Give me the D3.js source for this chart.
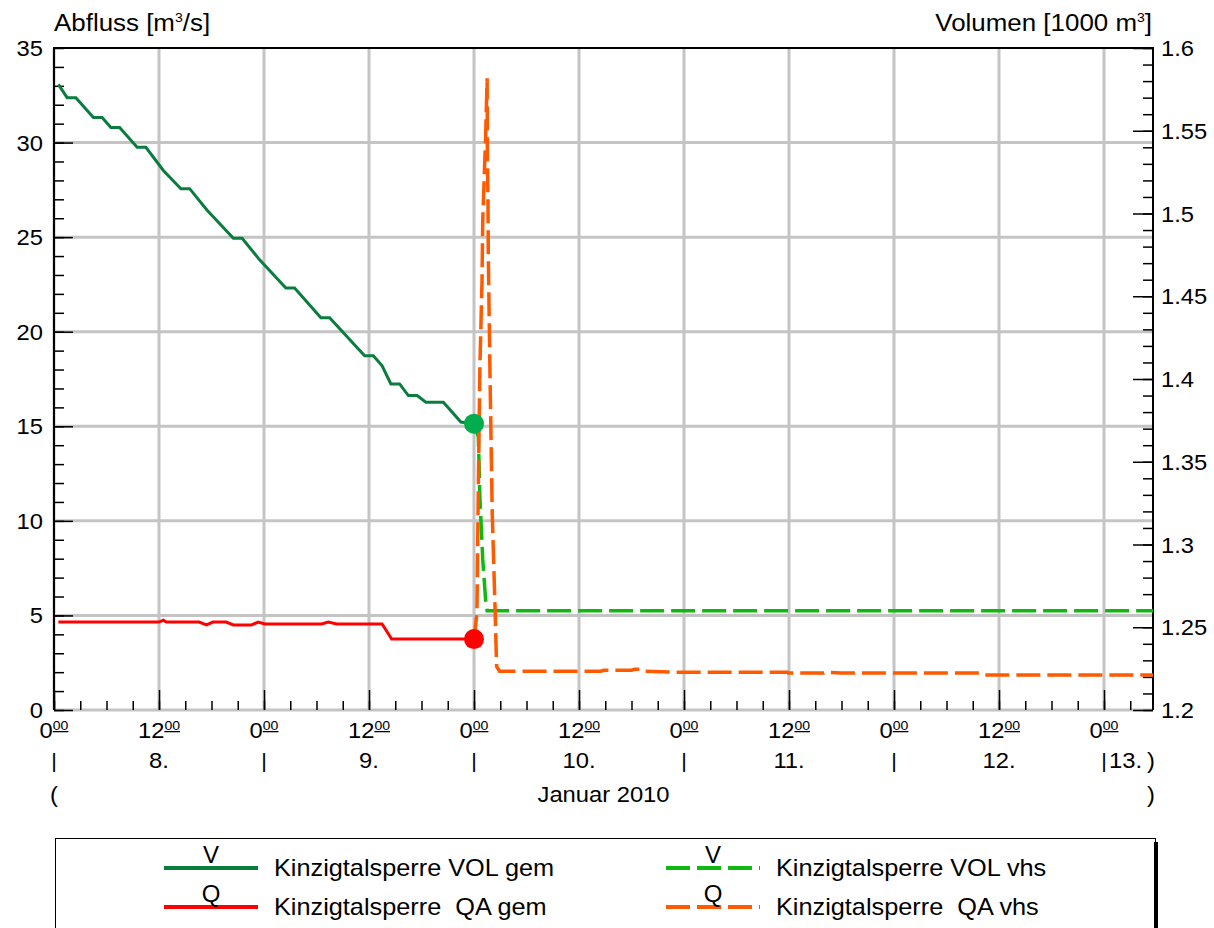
<!DOCTYPE html>
<html>
<head>
<meta charset="utf-8">
<script src="https://cdn.jsdelivr.net/npm/d3@7"></script>
<style>
  body { margin: 0; background: #fff; }
  svg { display: block; font-family: "Liberation Sans", Arial, sans-serif; }
  text { fill: #000; white-space: pre; }
</style>
</head>
<body>
<div id="chart"></div>
<script>
// --- data ---
// volume measured (1000 m3)
var volGemTime = ["2010-01-08 00:30","2010-01-08 01:30","2010-01-08 02:30","2010-01-08 04:30","2010-01-08 05:30",
  "2010-01-08 06:30","2010-01-08 07:30","2010-01-08 09:30","2010-01-08 10:30","2010-01-08 12:30","2010-01-08 14:30",
  "2010-01-08 15:30","2010-01-08 17:30","2010-01-08 20:30","2010-01-08 21:30","2010-01-08 23:30","2010-01-09 02:30",
  "2010-01-09 03:30","2010-01-09 06:30","2010-01-09 07:30","2010-01-09 11:30","2010-01-09 12:30","2010-01-09 13:30",
  "2010-01-09 14:30","2010-01-09 15:30","2010-01-09 16:30","2010-01-09 17:30","2010-01-09 18:30","2010-01-09 20:30",
  "2010-01-09 22:30","2010-01-10 00:00"];
var volGemValue = [1.578,1.570,1.570,1.558,1.558,1.552,1.552,1.540,1.540,1.526,1.515,1.515,1.502,1.485,1.485,1.472,
  1.455,1.455,1.437,1.437,1.414,1.414,1.408,1.397,1.397,1.390,1.390,1.386,1.386,1.374,1.373];

// volume forecast (1000 m3)
var volVhsTime = ["2010-01-10 00:00","2010-01-10 00:30","2010-01-10 00:40","2010-01-10 01:00","2010-01-10 01:20",
  "2010-01-10 01:30","2010-01-13 05:36"];
var volVhsValue = [1.373,1.365,1.329,1.291,1.266,1.260,1.260];

// outflow measured (m3/s)
var qGemTime = ["2010-01-08 00:30","2010-01-08 12:00","2010-01-08 12:30","2010-01-08 12:50","2010-01-08 16:35",
  "2010-01-08 17:25","2010-01-08 18:10","2010-01-08 19:40","2010-01-08 20:30","2010-01-08 22:35","2010-01-08 23:20",
  "2010-01-09 00:05","2010-01-09 06:35","2010-01-09 07:20","2010-01-09 08:20","2010-01-09 13:30","2010-01-09 14:35",
  "2010-01-10 00:00"];
var qGemValue = [4.65,4.65,4.75,4.65,4.65,4.5,4.65,4.65,4.5,4.5,4.65,4.55,4.55,4.65,4.55,4.55,3.75,3.75];

// outflow forecast (m3/s)
var qVhsTime = ["2010-01-10 00:00","2010-01-10 00:20","2010-01-10 00:30","2010-01-10 00:40","2010-01-10 00:55",
  "2010-01-10 01:00","2010-01-10 01:20","2010-01-10 01:30","2010-01-10 01:32","2010-01-10 01:36","2010-01-10 01:38",
  "2010-01-10 01:50","2010-01-10 02:05","2010-01-10 02:25","2010-01-10 02:35","2010-01-10 02:55","2010-01-10 14:30",
  "2010-01-10 14:50","2010-01-10 18:00","2010-01-10 18:20","2010-01-10 19:00","2010-01-10 19:20","2010-01-10 23:00",
  "2010-01-11 11:50","2010-01-11 11:55","2010-01-11 16:00","2010-01-11 16:10","2010-01-11 18:00","2010-01-12 09:50",
  "2010-01-12 10:10","2010-01-13 05:36"];
var qVhsValue = [3.75,5.1,12,18,22.7,25.9,30.4,33.4,29.0,26.8,24.1,17.6,10.4,5.2,2.3,2.05,2.05,2.1,2.1,2.15,2.15,
  2.05,2.0,2.0,1.95,1.95,2.0,1.95,1.95,1.85,1.85];

var timeDomain = ["2010-01-08 00:00", "2010-01-13 05:36"];
var qDomain = [0, 35];
var volDomain = [1.2, 1.6];
var dayLabels = ["8.", "9.", "10.", "11.", "12."];
var lastDayLabel = "13.";
var monthLabel = "Januar 2010";
var leftTitle = "Abfluss [m";
var rightTitle = "Volumen [1000 m";
var legendSymbols = ["V", "Q", "V", "Q"];
var legendNames = ["Kinzigtalsperre VOL gem", "Kinzigtalsperre  QA gem", "Kinzigtalsperre VOL vhs", "Kinzigtalsperre  QA vhs"];

// --- layout ---
var width = 1214, height = 928;
var x0 = 54, x1 = 1153, y0 = 48, y1 = 710;
var SX = 1.08; // text in the original is a bit wide
var gridColor = "#c4c4c4";
var colors = ["#0a7d3e", "#ff0000", "#10b810", "#ff5a00"];

var parse = d3.timeParse("%Y-%m-%d %H:%M");

var svg = d3.select("#chart").append("svg")
  .attr("width", width)
  .attr("height", height);

var x = d3.scaleTime().domain(timeDomain.map(parse)).range([x0, x1]);
var yQ = d3.scaleLinear().domain(qDomain).range([y1, y0]);
var yV = d3.scaleLinear().domain(volDomain).range([y1, y0]);

function label(g, px, py, str, anchor, size, sx) {
  return g.append("text")
    .attr("transform", "translate(" + px + "," + py + ") scale(" + (sx || SX) + ",1)")
    .attr("text-anchor", anchor || "start")
    .style("font-size", (size || 22) + "px")
    .text(str);
}

// grid
var grid = svg.append("g");
grid.selectAll("line.v").data(x.ticks(d3.timeHour.every(12))).enter().append("line")
  .attr("x1", function(d){ return x(d); }).attr("x2", function(d){ return x(d); })
  .attr("y1", y0).attr("y2", y1)
  .attr("stroke", gridColor).attr("stroke-width", 3);
grid.selectAll("line.h").data(yQ.ticks(7).filter(function(d){ return d < 35; })).enter().append("line")
  .attr("x1", x0).attr("x2", x1)
  .attr("y1", function(d){ return yQ(d); }).attr("y2", function(d){ return yQ(d); })
  .attr("stroke", gridColor).attr("stroke-width", 3);

// axes ticks (inside)
function noDomain(g) { g.select(".domain").remove(); g.selectAll("line").attr("stroke", "#000").attr("stroke-width", 1.5); }

svg.append("g").attr("transform", "translate(" + x0 + ",0)")
  .call(d3.axisLeft(yQ).ticks(35).tickSize(-10).tickFormat("")).call(noDomain);
svg.append("g").attr("transform", "translate(" + x0 + ",0)")
  .call(d3.axisLeft(yQ).tickValues([0, 5, 10, 15, 20, 25, 30]).tickSize(-19).tickFormat("")).call(noDomain);
svg.append("g").attr("transform", "translate(" + x1 + ",0)")
  .call(d3.axisRight(yV).tickValues(d3.range(1.2, 1.6001, 0.01)).tickSize(-10).tickFormat("")).call(noDomain);
svg.append("g").attr("transform", "translate(" + x1 + ",0)")
  .call(d3.axisRight(yV).tickValues(d3.range(1.2, 1.6001, 0.05)).tickSize(-20).tickFormat("")).call(noDomain);
svg.append("g").attr("transform", "translate(0," + y1 + ")")
  .call(d3.axisBottom(x).ticks(d3.timeHour.every(3)).tickSize(-9).tickFormat("")).call(noDomain);
svg.append("g").attr("transform", "translate(0," + y1 + ")")
  .call(d3.axisBottom(x).ticks(d3.timeHour.every(12)).tickSize(-20).tickFormat("")).call(noDomain);

// frame
svg.append("line").attr("x1", x0).attr("x2", x1).attr("y1", y0).attr("y2", y0).attr("stroke", "#000").attr("stroke-width", 2);
svg.append("line").attr("x1", x0).attr("x2", x0).attr("y1", y0 - 1).attr("y2", y1).attr("stroke", "#000").attr("stroke-width", 2);
svg.append("line").attr("x1", x1).attr("x2", x1).attr("y1", y0 - 1).attr("y2", y1).attr("stroke", "#000").attr("stroke-width", 2);

// series
function series(times, values, yScale) {
  return times.map(function(t, i){ return { t: parse(t), v: values[i], y: yScale }; });
}
var line = d3.line().x(function(d){ return x(d.t); }).y(function(d){ return d.y(d.v); });
var plot = svg.append("g");

var volVhs = series(volVhsTime, volVhsValue, yV);
var qVhs = series(qVhsTime, qVhsValue, yQ);
var volGem = series(volGemTime, volGemValue, yV);
var qGem = series(qGemTime, qGemValue, yQ);

plot.append("path").datum(volVhs).attr("d", line).attr("fill", "none")
  .attr("stroke", colors[2]).attr("stroke-width", 3.5).attr("stroke-dasharray", "24,7");
plot.append("path").datum(qVhs).attr("d", line).attr("fill", "none")
  .attr("stroke", colors[3]).attr("stroke-width", 3.5).attr("stroke-dasharray", "24,7");
plot.append("path").datum(volGem).attr("d", line).attr("fill", "none")
  .attr("stroke", colors[0]).attr("stroke-width", 3);
plot.append("path").datum(qGem).attr("d", line).attr("fill", "none")
  .attr("stroke", colors[1]).attr("stroke-width", 3);

var lastV = volGem[volGem.length - 1], lastQ = qGem[qGem.length - 1];
plot.append("circle").attr("cx", x(lastV.t)).attr("cy", yV(lastV.v)).attr("r", 10).attr("fill", "#00ad4d");
plot.append("circle").attr("cx", x(lastQ.t)).attr("cy", yQ(lastQ.v)).attr("r", 10).attr("fill", "#ff0000");

// axis labels
var lab = svg.append("g");
yQ.ticks(7).forEach(function(d){ label(lab, 43, yQ(d) + 8, String(d), "end", 22); });
d3.range(1.2, 1.6001, 0.05).forEach(function(d){
  label(lab, 1161, yV(d) + 8, d3.format(".2~f")(d), "start", 22);
});

var t1 = label(lab, x0, 31, leftTitle, "start", 24);
t1.append("tspan").attr("dy", -9).style("font-size", "13px").text("3");
t1.append("tspan").attr("dy", 9).text("/s]");
var t2 = label(lab, 1152, 31, rightTitle, "end", 24);
t2.append("tspan").attr("dy", -9).style("font-size", "13px").text("3");
t2.append("tspan").attr("dy", 9).text("]");

x.ticks(d3.timeHour.every(12)).forEach(function(d){
  var t = label(lab, x(d), 738, String(d.getHours()), "middle", 22);
  t.append("tspan").attr("dy", -8).style("font-size", "13px").style("text-decoration", "underline").text("00");
});

var days = x.ticks(d3.timeDay.every(1));
days.forEach(function(d){ label(lab, x(d), 768, "|", "middle", 20); });
days.slice(0, dayLabels.length).forEach(function(d, i){
  label(lab, x(d3.timeHour.offset(d, 12)), 768, dayLabels[i], "middle", 22);
});
label(lab, x(days[days.length - 1]) + 5, 768, lastDayLabel, "start", 22);
label(lab, x1 - 6, 768, ")", "start", 22);
label(lab, x0 - 4, 802, "(", "start", 22);
label(lab, x1 - 6, 802, ")", "start", 22);
label(lab, (x0 + x1) / 2, 802, monthLabel, "middle", 22);

// legend
var leg = svg.append("g");
leg.append("rect").attr("x", 55.5).attr("y", 838.5).attr("width", 1100).attr("height", 120)
  .attr("fill", "#fff").attr("stroke", "#000").attr("stroke-width", 1);
leg.append("rect").attr("x", 1154).attr("y", 842).attr("width", 4).attr("height", 90).attr("fill", "#000");

var legCols = [164, 666];
var legRows = [868, 907];
legendNames.forEach(function(name, i){
  var cx = legCols[Math.floor(i / 2)], cy = legRows[i % 2];
  var dashed = i >= 2;
  leg.append("line").attr("x1", cx).attr("x2", cx + 94).attr("y1", cy).attr("y2", cy)
    .attr("stroke", colors[i]).attr("stroke-width", 4)
    .attr("stroke-dasharray", dashed ? "24,7" : null);
  label(leg, cx + 47, cy - 5, legendSymbols[i], "middle", 24, 1.0);
  label(leg, cx + 110, cy + 8, name, "start", 23, 1.1);
});
</script>
</body>
</html>
